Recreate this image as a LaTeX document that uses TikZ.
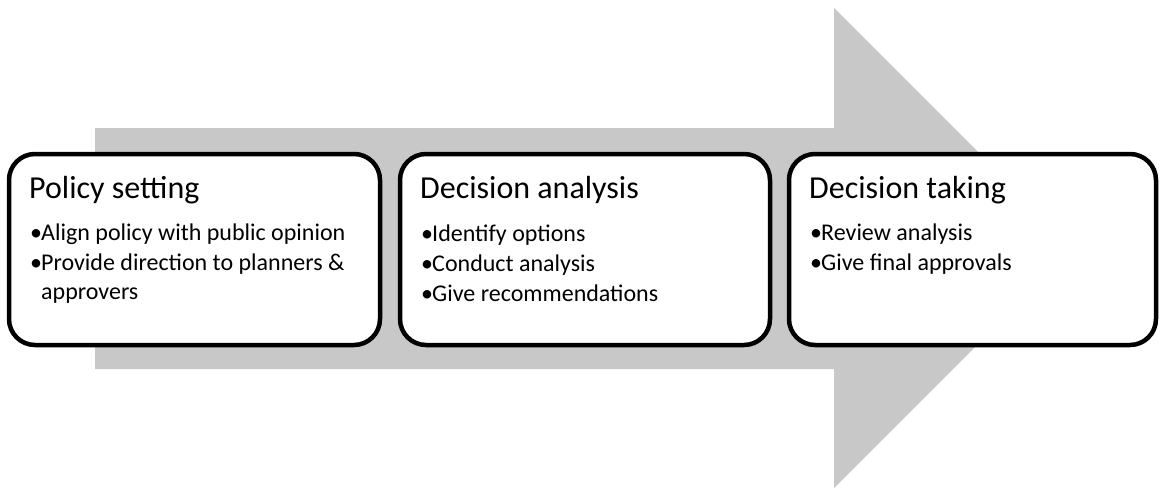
\documentclass[tikz,border=0pt]{standalone}
\usepackage{fontspec}
\setmainfont{Carlito}
\definecolor{arrowgray}{RGB}{200,200,200}
\tikzset{
  box/.style={draw=black, line width=4.5pt, rounded corners=26pt, fill=white, minimum width=371pt, minimum height=191pt, inner sep=0pt},
  title/.style={anchor=base west, inner sep=0pt, font=\fontsize{32}{36}\selectfont},
  item/.style={anchor=base west, inner sep=0pt, font=\fontsize{24}{28}\selectfont},
}
\newcommand{\bul}{\makebox[11pt][l]{\textbullet}}
\begin{document}
\begin{tikzpicture}[x=1pt,y=-1pt]
\useasboundingbox (0,0) rectangle (1160,488);
\fill[white] (0,0) rectangle (1160,488);
% big arrow
\fill[arrowgray] (95,128) -- (834,128) -- (834,8) -- (1074,248) -- (834,488) -- (834,369) -- (95,369) -- cycle;
% boxes
\node[box] (b1) at (194.5,249.5) {};
\node[box, minimum width=370pt] (b2) at (585,249.5) {};
\node[box, minimum width=367pt] (b3) at (972.5,249.5) {};
% box 1
\node[title] (t1) at (29,198) {Policy setting};
\node[item] (i11) at (30,240) {\bul Align policy with public opinion};
\node[item] (i12) at (30,270) {\bul Provide direction to planners \&};
\node[item] (i13) at (41,299) {approvers};
% box 2
\node[title] (t2) at (420,198) {Decision analysis};
\node[item] (i21) at (421,241) {\bul Identify options};
\node[item] (i22) at (421,271) {\bul Conduct analysis};
\node[item] (i23) at (421,301) {\bul Give recommendations};
% box 3
\node[title] (t3) at (809,198) {Decision taking};
\node[item] (i31) at (810,240) {\bul Review analysis};
\node[item] (i32) at (810,270) {\bul Give final approvals};
\end{tikzpicture}
\end{document}
